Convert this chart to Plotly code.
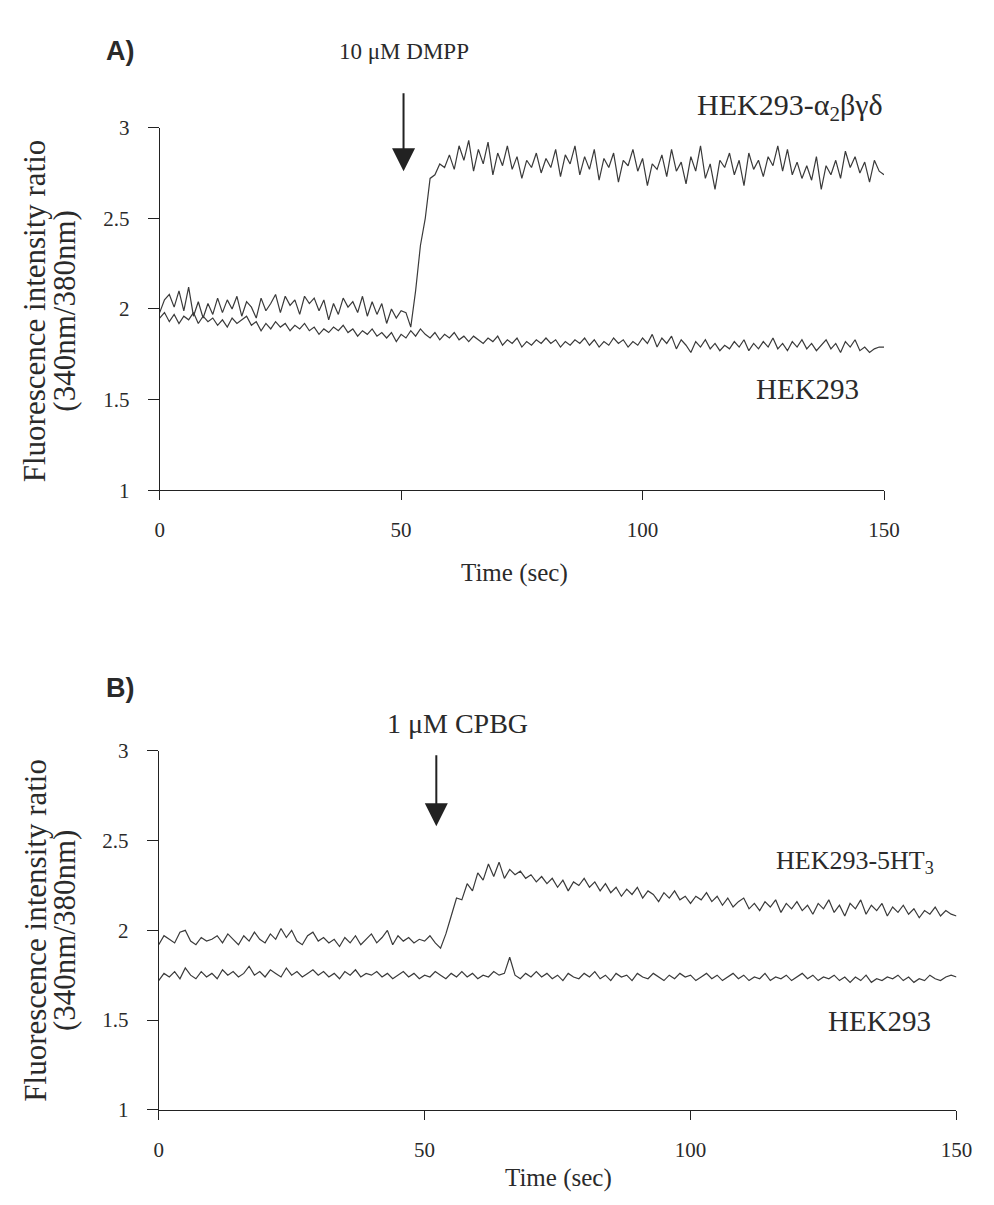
import plotly.graph_objects as go

time_s = list(range(0, 151))

a_receptor = [1.98,2.05,2.08,2.01,2.10,1.99,2.12,1.96,2.04,1.95,2.03,1.97,2.06,1.98,2.05,2.00,2.07,1.96,2.04,2.01,
              1.95,2.06,1.99,2.03,2.08,1.98,2.07,2.02,2.05,1.97,2.07,2.03,2.06,1.99,2.05,1.94,2.03,1.97,2.06,2.01,
              2.04,1.98,2.07,1.96,2.04,1.97,2.03,1.92,2.00,1.95,1.99,1.98,1.90,2.10,2.35,2.50,2.72,2.74,2.80,2.78,
              2.85,2.77,2.90,2.82,2.93,2.76,2.88,2.80,2.92,2.74,2.86,2.79,2.90,2.77,2.84,2.72,2.82,2.78,2.86,2.75,
              2.83,2.78,2.88,2.73,2.85,2.80,2.90,2.74,2.84,2.77,2.88,2.71,2.83,2.78,2.86,2.70,2.82,2.79,2.88,2.76,
              2.83,2.68,2.80,2.77,2.85,2.73,2.88,2.76,2.81,2.69,2.84,2.76,2.90,2.72,2.80,2.66,2.82,2.78,2.86,2.74,
              2.82,2.68,2.86,2.77,2.82,2.73,2.84,2.79,2.90,2.76,2.88,2.74,2.81,2.72,2.79,2.71,2.84,2.66,2.79,2.74,
              2.82,2.72,2.87,2.78,2.84,2.75,2.81,2.70,2.82,2.76,2.74]

a_control = [1.95,1.98,1.93,1.97,1.92,1.96,1.94,1.98,1.92,1.96,1.93,1.95,1.91,1.94,1.90,1.95,1.92,1.94,1.96,1.91,
             1.93,1.88,1.92,1.89,1.93,1.90,1.92,1.88,1.91,1.89,1.92,1.88,1.90,1.86,1.89,1.87,1.90,1.88,1.91,1.87,
             1.89,1.85,1.88,1.86,1.89,1.85,1.87,1.84,1.87,1.82,1.86,1.84,1.88,1.85,1.89,1.86,1.84,1.87,1.83,1.86,
             1.84,1.87,1.83,1.85,1.82,1.85,1.83,1.81,1.84,1.82,1.85,1.80,1.83,1.81,1.84,1.79,1.82,1.80,1.83,1.81,
             1.84,1.81,1.83,1.79,1.82,1.80,1.83,1.81,1.84,1.80,1.83,1.79,1.82,1.80,1.84,1.81,1.83,1.79,1.82,1.80,
             1.84,1.81,1.86,1.79,1.84,1.81,1.85,1.78,1.83,1.80,1.76,1.82,1.79,1.83,1.78,1.81,1.77,1.80,1.78,1.82,
             1.79,1.83,1.77,1.81,1.78,1.82,1.79,1.84,1.78,1.81,1.77,1.82,1.79,1.83,1.78,1.81,1.77,1.80,1.83,1.78,
             1.81,1.76,1.82,1.79,1.83,1.77,1.79,1.76,1.78,1.79,1.79]

b_receptor = [1.92,1.97,1.95,1.93,1.99,2.00,1.94,1.92,1.96,1.94,1.95,1.97,1.93,1.98,1.95,1.92,1.97,1.94,1.99,1.95,
              1.93,1.98,1.95,2.01,1.96,2.00,1.94,1.92,1.97,1.99,1.94,1.96,1.93,1.95,1.91,1.96,1.93,1.97,1.92,1.95,
              1.98,1.93,1.96,2.00,1.92,1.97,1.94,1.96,1.93,1.95,1.94,1.97,1.93,1.90,1.98,2.08,2.18,2.17,2.26,2.22,
              2.32,2.28,2.37,2.30,2.38,2.29,2.34,2.31,2.33,2.29,2.31,2.27,2.30,2.26,2.29,2.24,2.28,2.22,2.27,2.25,
              2.29,2.24,2.27,2.22,2.26,2.21,2.24,2.19,2.23,2.20,2.24,2.18,2.22,2.20,2.16,2.21,2.18,2.22,2.17,2.19,
              2.15,2.19,2.17,2.21,2.16,2.19,2.14,2.18,2.13,2.16,2.18,2.12,2.15,2.11,2.16,2.13,2.17,2.10,2.15,2.12,
              2.16,2.11,2.14,2.09,2.15,2.12,2.17,2.10,2.14,2.08,2.15,2.12,2.17,2.09,2.14,2.11,2.15,2.08,2.13,2.10,
              2.14,2.09,2.12,2.07,2.11,2.09,2.13,2.08,2.11,2.09,2.08]

b_control = [1.72,1.76,1.74,1.77,1.73,1.79,1.75,1.73,1.77,1.74,1.76,1.73,1.78,1.75,1.77,1.74,1.76,1.80,1.75,1.77,
             1.74,1.78,1.76,1.74,1.79,1.75,1.77,1.74,1.76,1.78,1.75,1.77,1.74,1.76,1.73,1.77,1.75,1.78,1.74,1.76,
             1.75,1.77,1.74,1.76,1.73,1.75,1.77,1.74,1.76,1.73,1.75,1.74,1.77,1.75,1.73,1.76,1.74,1.77,1.74,1.76,
             1.73,1.75,1.74,1.77,1.75,1.76,1.85,1.75,1.73,1.76,1.74,1.77,1.74,1.76,1.73,1.75,1.72,1.76,1.74,1.73,
             1.76,1.74,1.77,1.73,1.75,1.72,1.76,1.74,1.75,1.72,1.76,1.74,1.73,1.76,1.74,1.72,1.75,1.73,1.76,1.74,
             1.75,1.72,1.74,1.76,1.73,1.75,1.72,1.74,1.76,1.73,1.75,1.72,1.74,1.73,1.76,1.72,1.74,1.73,1.75,1.72,
             1.74,1.76,1.73,1.75,1.72,1.74,1.73,1.75,1.72,1.74,1.71,1.74,1.72,1.75,1.71,1.73,1.72,1.74,1.73,1.75,
             1.72,1.74,1.71,1.73,1.72,1.75,1.73,1.72,1.74,1.75,1.74]

x_ticks = [0, 50, 100, 150]
y_ticks = [1, 1.5, 2, 2.5, 3]
y_ticktext = ["1", "1.5", "2", "2.5", "3"]

stim_a = {"label": "10 μM DMPP", "time": 50.5, "tip": 2.76}
stim_b = {"label": "1 μM CPBG", "time": 52.2, "tip": 2.58}

W, H = 994, 1205
SERIF = "Liberation Serif, Times New Roman, serif"
INK = "#2a2a2a"
LINE = "#3a3a3a"

fig = go.Figure()
for xs, ys, xa, ya in [(time_s, a_receptor, "x", "y"), (time_s, a_control, "x", "y"),
                       (time_s, b_receptor, "x2", "y2"), (time_s, b_control, "x2", "y2")]:
    fig.add_trace(go.Scatter(x=xs, y=ys, mode="lines", xaxis=xa, yaxis=ya,
                             line=dict(color=LINE, width=1.2), showlegend=False, hoverinfo="skip"))

def px_x(p):
    return p / W

def px_y(p):
    return 1 - p / H

axis_common = dict(showgrid=False, zeroline=False, showline=True, linecolor="#222", linewidth=1,
                   ticks="outside", tickcolor="#222", tickfont=dict(family=SERIF, size=21, color=INK))
xa_style = dict(ticklen=9, ticklabelstandoff=12, **axis_common)
ya_style = dict(ticklen=11, ticklabelstandoff=14, **axis_common)

fig.update_layout(
    width=W, height=H, margin=dict(l=0, r=0, t=0, b=0),
    paper_bgcolor="white", plot_bgcolor="white",
    xaxis=dict(domain=[px_x(158), px_x(898)], range=[0, 150], anchor="y", tickvals=x_ticks, **xa_style),
    yaxis=dict(domain=[px_y(488), px_y(118)], range=[1, 3], anchor="x",
               tickvals=y_ticks, ticktext=y_ticktext, **ya_style),
    xaxis2=dict(domain=[px_x(157), px_x(972)], range=[0, 150], anchor="y2", tickvals=x_ticks, **xa_style),
    yaxis2=dict(domain=[px_y(1120), px_y(754)], range=[1, 3], anchor="x2",
                tickvals=y_ticks, ticktext=y_ticktext, **ya_style),
)

def text(x, y, s, size=20, family=SERIF, angle=0):
    fig.add_annotation(x=px_x(x), y=px_y(y), xref="paper", yref="paper", text=s, showarrow=False,
                       textangle=angle, xanchor="center", yanchor="middle",
                       font=dict(family=family, size=size, color=INK))

# panel letters
text(118, 40, "<b>A)</b>", size=27, family="Liberation Sans, Arial, sans-serif")
text(118, 690, "<b>B)</b>", size=27, family="Liberation Sans, Arial, sans-serif")

# y-axis titles (two lines each)
for cy in (305, 937):
    text(31, cy, "Fluorescence intensity ratio", size=31, angle=-90)
    text(61, cy, "(340nm/380nm)", size=31, angle=-90)
# x-axis titles
text(520, 572, "Time (sec)", size=25)
text(565, 1190, "Time (sec)", size=25)

# trace labels
text(802, 97, "HEK293-α<sub>2</sub>βγδ", size=30)
text(820, 385, "HEK293", size=29)
text(868, 867, "HEK293-5HT<sub>3</sub>", size=26)
text(893, 1030, "HEK293", size=29)

# stimulus labels with arrows pointing at the application time
fig.add_annotation(x=stim_a["time"], y=stim_a["tip"], xref="x", yref="y", ax=0, ay=-120,
                   text=stim_a["label"], showarrow=True, startstandoff=28,
                   arrowhead=2, arrowsize=2.3, arrowwidth=2, arrowcolor="#222",
                   font=dict(family=SERIF, size=23, color=INK))
fig.add_annotation(x=stim_b["time"], y=stim_b["tip"], xref="x2", yref="y2", ax=0, ay=-103,
                   text="\u00a0" * 6 + stim_b["label"], showarrow=True, startstandoff=15,
                   arrowhead=2, arrowsize=2.3, arrowwidth=2, arrowcolor="#222",
                   font=dict(family=SERIF, size=28, color=INK))

fig.write_html("out.html", config={"displayModeBar": False},
               post_script="document.body.style.margin='0';document.body.style.overflow='hidden';")
